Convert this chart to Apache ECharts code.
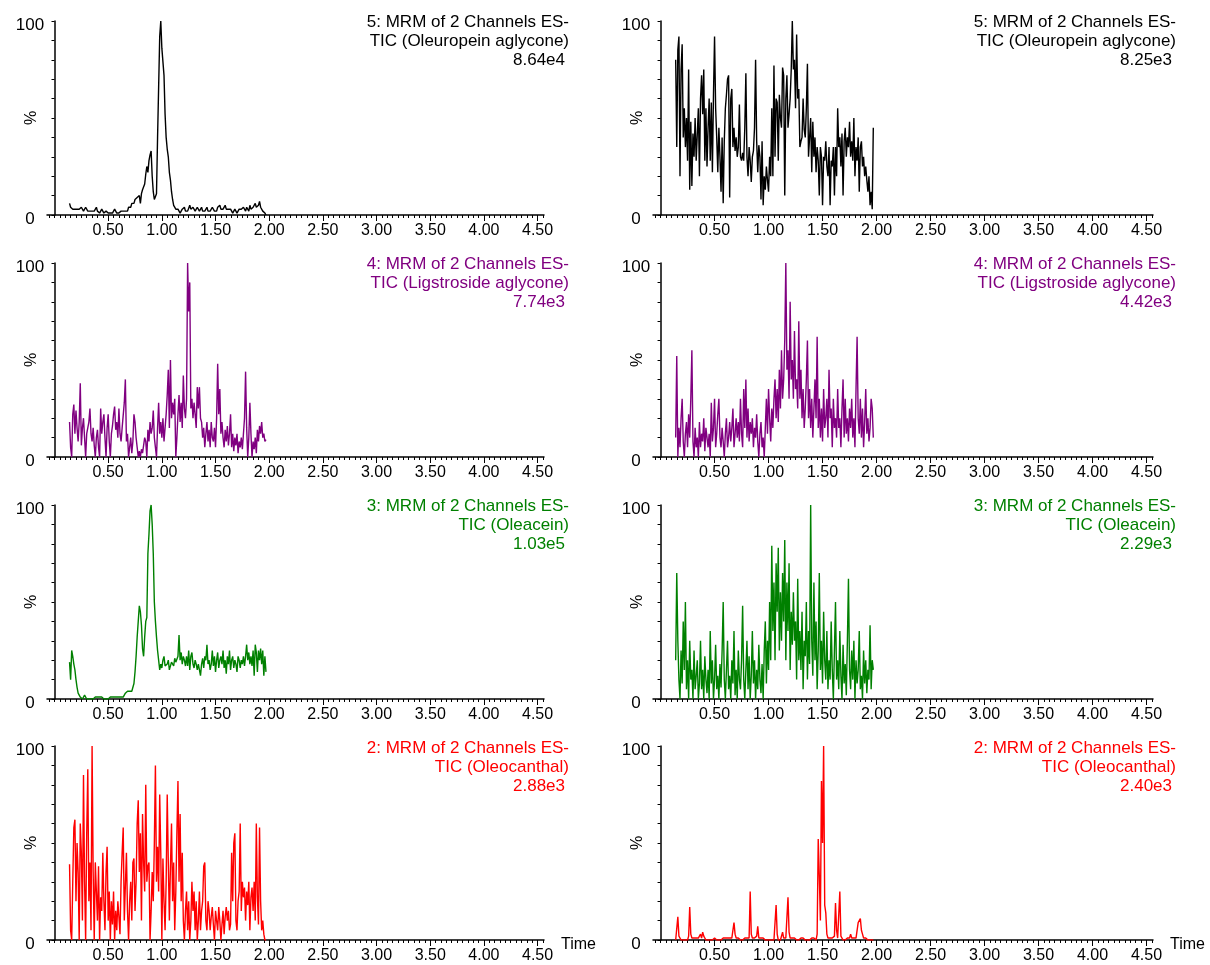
<!DOCTYPE html>
<html><head><meta charset="utf-8">
<script src="https://cdn.jsdelivr.net/npm/echarts@6/dist/echarts.min.js"></script>
<style>html,body{margin:0;padding:0;background:#fff}#c{width:1210px;height:965px}</style>
</head><body><div id="c"></div>
<script>
// scan times (min) shared by all traces
const scanTimes = [
0.14,0.15,0.16,0.17,0.18,0.19,0.20,0.21,0.22,0.23,
0.24,0.25,0.26,0.27,0.28,0.29,0.30,0.31,0.32,0.33,
0.34,0.35,0.36,0.37,0.38,0.39,0.40,0.41,0.42,0.43,
0.44,0.45,0.46,0.47,0.48,0.49,0.50,0.51,0.52,0.53,
0.54,0.55,0.56,0.57,0.58,0.59,0.60,0.61,0.62,0.63,
0.64,0.65,0.66,0.67,0.68,0.69,0.70,0.71,0.72,0.73,
0.74,0.75,0.76,0.77,0.78,0.79,0.80,0.81,0.82,0.83,
0.84,0.85,0.86,0.87,0.88,0.89,0.90,0.91,0.92,0.93,
0.94,0.95,0.96,0.97,0.98,0.99,1.00,1.01,1.02,1.03,
1.04,1.05,1.06,1.07,1.08,1.09,1.10,1.11,1.12,1.13,
1.14,1.15,1.16,1.17,1.18,1.19,1.20,1.21,1.22,1.23,
1.24,1.25,1.26,1.27,1.28,1.29,1.30,1.31,1.32,1.33,
1.34,1.35,1.36,1.37,1.38,1.39,1.40,1.41,1.42,1.43,
1.44,1.45,1.46,1.47,1.48,1.49,1.50,1.51,1.52,1.53,
1.54,1.55,1.56,1.57,1.58,1.59,1.60,1.61,1.62,1.63,
1.64,1.65,1.66,1.67,1.68,1.69,1.70,1.71,1.72,1.73,
1.74,1.75,1.76,1.77,1.78,1.79,1.80,1.81,1.82,1.83,
1.84,1.85,1.86,1.87,1.88,1.89,1.90,1.91,1.92,1.93,
1.94,1.95,1.96,1.97];

const xTickLabels = [0.5,1.0,1.5,2.0,2.5,3.0,3.5,4.0,4.5];
const yTickLabels = [0,100];

// relative intensity (%) per trace
const oleuropeinLeft = [
6,4,5,3,4,3,2,3,4,3, 3,4,3,2,3,4,3,2,3,2, 3,2,1,2,3,4,2,3,1,2, 3,2,1,1,2,1,1,2,1,2,
1,2,3,2,1,2,1,1,2,3, 2,1,2,3,2,4,5,4,6,7, 6,8,7,9,8,10,6,11,13,12, 16,21,25,22,28,31,33,20,12,8,
7,11,40,66,92,100,86,87,72,52, 40,34,30,22,18,12,8,5,4,3, 2,3,2,1,2,3,2,4,2,3, 2,3,5,3,2,4,3,2,3,4,
3,2,3,4,2,3,2,3,4,2, 3,2,3,4,3,2,3,2,4,3, 5,3,2,3,4,5,3,2,3,2, 3,2,1,2,3,2,1,2,3,2,
3,2,4,3,2,4,3,2,5,3, 2,4,3,6,4,3,5,7,4,3, 2,1,1,0];
const oleuropeinRight = [
80,35,85,92,20,75,88,40,55,35, 50,28,75,13,48,15,42,30,50,28, 28,55,20,60,72,52,75,28,55,25,
45,60,28,58,22,62,92,55,40,22, 45,30,12,40,6,38,55,62,70,72, 9,60,65,35,45,33,40,30,35,57,
30,28,32,28,45,73,30,20,35,28, 17,30,33,45,80,38,22,36,30,8, 38,5,20,13,25,18,12,30,20,55,
20,77,30,60,58,28,62,50,45,76, 72,10,60,72,45,52,60,75,100,75, 80,55,93,60,65,35,38,40,60,44,
40,55,78,30,40,50,22,48,30,40, 22,35,28,10,35,30,5,30,28,38, 25,20,35,5,28,25,35,10,35,20,
55,35,40,25,42,10,38,45,30,40, 35,48,30,38,28,50,20,35,28,40, 12,35,38,25,30,20,25,18,12,20,
5,12,3,45];
const ligstrosideLeft = [
18,5,0,22,27,12,24,15,8,18, 38,6,15,20,10,0,12,15,18,25, 12,8,15,6,0,10,14,5,0,25,
12,18,22,10,0,15,22,8,0,12, 16,22,26,14,18,10,25,12,8,15, 15,28,40,8,12,0,5,10,2,8,
22,18,10,5,0,3,0,4,2,6, 10,8,0,14,8,18,12,15,24,10, 5,0,15,28,12,18,10,20,8,15,
22,32,45,15,50,20,28,22,30,0, 10,22,32,18,28,15,42,25,20,30, 100,75,90,25,30,20,28,22,15,36,
25,36,20,18,10,15,5,12,18,8, 14,5,18,10,8,15,5,20,48,22, 35,12,18,10,5,14,8,16,6,12,
22,5,12,3,10,6,12,2,8,5, 10,4,12,20,44,15,0,10,28,12, 0,8,4,10,2,14,8,16,12,18,
10,12,8,9];
const ligstrosideRight = [
10,52,0,15,5,20,30,8,0,12, 18,5,22,10,30,55,8,0,15,5, 10,0,18,5,12,8,20,3,15,10,
5,12,0,28,8,15,30,5,12,22, 30,10,5,15,8,0,12,20,5,10, 18,8,15,25,5,12,20,10,18,8,
30,12,5,35,15,40,10,25,8,18, 12,20,5,15,10,22,8,0,12,18, 5,10,0,15,30,12,35,20,8,25,
15,30,40,20,35,18,45,25,55,30, 40,60,100,45,55,30,80,40,50,30, 65,35,40,25,70,30,45,20,35,15,
25,40,60,20,35,15,30,10,25,40, 20,62,15,30,10,25,8,35,15,20, 30,10,45,20,25,5,30,15,20,10,
35,15,20,5,25,40,10,30,12,20, 8,25,15,30,10,20,5,35,62,20, 12,30,10,25,5,18,35,12,20,8,
15,30,25,10];
const oleaceinLeft = [
19,10,25,22,18,15,10,6,3,2, 1,1,0,1,2,1,0,1,0,1, 0,1,0,0,1,0,1,2,1,0, 1,0,0,1,0,1,0,1,1,0,
1,2,1,0,1,0,1,2,1,1, 1,2,3,2,4,5,4,3,4,3, 8,14,22,32,40,48,45,38,26,22, 32,40,42,75,85,97,100,90,75,50,
40,32,25,26,15,18,16,20,22,17, 16,18,20,15,14,19,20,17,21,19, 18,22,33,20,24,18,22,20,17,22, 17,25,15,22,24,18,16,20,18,15,
18,15,12,18,21,16,22,20,28,18, 20,15,18,25,17,22,14,20,24,16, 20,22,18,25,16,20,13,22,18,25, 15,20,22,16,20,18,14,22,20,16,
20,18,22,17,22,28,20,24,18,22, 17,25,12,28,24,14,25,20,26,18, 25,12,22,14];
const oleaceinRight = [
20,65,30,10,0,25,8,40,15,50, 5,20,0,30,10,15,0,25,5,12, 20,0,8,30,5,15,0,22,10,3,
15,0,35,8,20,0,10,28,5,12, 0,18,6,25,50,10,0,15,30,5, 12,0,20,8,35,2,15,0,25,10,
5,20,48,10,0,15,30,5,22,0, 12,35,8,20,0,15,5,28,10,3, 18,0,25,40,8,30,15,50,20,79,
35,60,20,70,45,78,25,55,30,65, 40,82,20,60,35,70,15,45,28,55, 30,40,10,62,20,35,15,45,5,30,
22,50,10,35,18,100,30,12,60,20, 40,5,25,65,15,30,8,45,20,10, 35,5,20,10,40,15,0,25,50,10,
20,5,35,12,0,28,8,18,2,30, 62,15,5,25,10,30,0,20,8,15, 35,5,12,0,25,8,20,3,15,10,
38,5,20,15];
const oleocanthalLeft = [
39,5,0,30,58,62,20,50,35,0, 60,45,10,85,30,0,55,88,20,40, 5,100,35,0,40,25,10,38,0,22,
15,45,20,5,35,48,10,25,0,20, 8,25,0,15,5,20,12,3,30,45, 58,10,28,45,15,0,20,30,10,40,
42,15,30,60,72,35,55,10,65,40, 25,80,30,38,40,0,15,35,20,50, 90,30,48,25,75,45,0,42,20,5,
30,75,40,10,38,60,20,40,5,25, 55,82,30,65,20,45,10,0,15,25, 5,20,0,10,30,15,25,5,20,0,
10,25,5,15,20,38,40,10,5,20, 15,5,12,17,8,0,15,10,5,17, 10,0,8,15,3,12,17,10,15,5,
8,45,20,50,55,10,5,20,25,60, 15,30,22,27,10,25,18,30,5,22, 27,15,30,10,60,22,8,58,20,5,
10,3,0,0];
const oleocanthalRight = [
0,1,12,2,1,0,1,0,1,0, 1,0,2,17,3,1,0,1,0,1, 2,1,0,3,1,4,2,1,0,1, 0,1,0,1,0,0,1,0,0,1,
0,1,0,0,1,0,1,0,1,0, 1,0,1,2,9,3,1,0,1,0, 0,1,0,0,1,0,1,0,1,25, 3,1,0,1,0,2,7,1,0,1,
0,1,0,0,1,0,1,0,1,0, 1,0,0,18,3,0,1,0,1,4, 1,0,1,0,22,4,1,0,1,0, 1,0,0,1,0,0,1,0,1,0,
0,1,0,1,0,0,1,0,1,1, 0,3,52,33,10,82,50,100,18,14, 3,1,0,1,0,1,0,2,19,5, 1,0,25,2,1,0,1,0,0,1,
0,1,3,1,0,1,0,1,2,9, 8,11,5,3,1,0,1,0,0,0, 0,0,0,0];

const channelHeads = ['5: MRM of 2 Channels ES-','4: MRM of 2 Channels ES-','3: MRM of 2 Channels ES-','2: MRM of 2 Channels ES-'];
const compoundNames = ['TIC (Oleuropein aglycone)','TIC (Ligstroside aglycone)','TIC (Oleacein)','TIC (Oleocanthal)'];
const rowColors = ['#000000','#800080','#008000','#ff0000'];
const intensitiesLeft = ['8.64e4','7.74e3','1.03e5','2.88e3'];
const intensitiesRight = ['8.25e3','4.42e3','2.29e3','2.40e3'];
const tracesLeft = [oleuropeinLeft, ligstrosideLeft, oleaceinLeft, oleocanthalLeft];
const tracesRight = [oleuropeinRight, ligstrosideRight, oleaceinRight, oleocanthalRight];

// layout
const FONT = '"Liberation Sans", Arial, sans-serif';
const rowTop = [21, 263, 505, 746];
const gridH = 194;
const colLeft = [47, 653];
const colW = [497, 500];
const titleRight = [569, 1176];
const pctX = [32, 638];
const X_MIN = -0.07, X_MAX = 4.56;
const minorTicks = [];
for (let k = -1; k <= 91; k++) minorTicks.push(+(k * 0.05).toFixed(2));

const grids = [], xAxes = [], yAxes = [], series = [], graphics = [];
let gi = 0;
for (let r = 0; r < 4; r++) {
  for (let c = 0; c < 2; c++) {
    const color = rowColors[r];
    grids.push({left: colLeft[c], top: rowTop[r], width: colW[c], height: gridH, containLabel: false, outerBoundsMode: 'none'});
    const bottomRow = r === 3;
    xAxes.push({
      gridIndex: gi, type: 'value', min: X_MIN, max: X_MAX, position: 'bottom',
      axisLine: {show: true, onZero: false, lineStyle: {color: '#000', width: 1.5}},
      axisTick: {show: true, customValues: minorTicks, length: 3, lineStyle: {color: '#000', width: 1}},
      axisLabel: {show: true, customValues: xTickLabels, formatter: v => v.toFixed(2), margin: 8,
                  color: '#000', fontSize: 16, fontFamily: FONT},
      splitLine: {show: false},
      name: bottomRow ? 'Time' : '', nameLocation: 'end', nameGap: 17,
      nameTextStyle: {color: '#000', fontSize: 16, fontFamily: FONT, verticalAlign: 'top', lineHeight: 9}
    });
    xAxes.push({
      gridIndex: gi, type: 'value', min: X_MIN, max: X_MAX, position: 'bottom',
      axisLine: {show: false, onZero: false},
      axisTick: {show: true, customValues: xTickLabels, length: 6, lineStyle: {color: '#000', width: 1}},
      axisLabel: {show: false}, splitLine: {show: false}
    });
    yAxes.push({
      gridIndex: gi, type: 'value', min: 0, max: 100, interval: 10,
      axisLine: {show: true, lineStyle: {color: '#000', width: 1.5}},
      axisTick: {show: true, length: 3, lineStyle: {color: '#000', width: 1}},
      axisLabel: {show: true, customValues: yTickLabels, margin: 17, align: 'center', verticalAlign: 'top',
                  lineHeight: 9, color: '#000', fontSize: 17, fontFamily: FONT},
      splitLine: {show: false}
    });
    const vals = c === 0 ? tracesLeft[r] : tracesRight[r];
    series.push({
      type: 'line', xAxisIndex: gi * 2, yAxisIndex: gi, showSymbol: false, symbol: 'none',
      data: scanTimes.map((t, i) => [t, vals[i]]),
      lineStyle: {color: color, width: 1.4}, itemStyle: {color: color}, animation: false, silent: true
    });
    // y-axis title "%"
    graphics.push({type: 'text', x: pctX[c], y: rowTop[r] + gridH / 2, rotation: Math.PI / 2, silent: true,
      style: {text: '%', fill: '#000', font: '16px ' + FONT, align: 'center', verticalAlign: 'middle',
              textAlign: 'center', textVerticalAlign: 'middle'}});
    const lines = [channelHeads[r], compoundNames[r], c === 0 ? intensitiesLeft[r] : intensitiesRight[r]];
    const ly = [22, 41, 60];
    const lx = [titleRight[c], titleRight[c], titleRight[c] - 4];
    lines.forEach((txt, j) => {
      graphics.push({type: 'text', x: lx[j], y: ly[j] + 242 * r, silent: true,
        style: {text: txt, fill: color, font: '17px ' + FONT, align: 'right', verticalAlign: 'middle',
                textAlign: 'right', textVerticalAlign: 'middle'}});
    });
    gi++;
  }
}

const chart = echarts.init(document.getElementById('c'), null, {renderer: 'canvas'});
chart.setOption({
  animation: false, backgroundColor: '#fff',
  grid: grids, xAxis: xAxes, yAxis: yAxes, series: series, graphic: graphics
});
</script></body></html>
